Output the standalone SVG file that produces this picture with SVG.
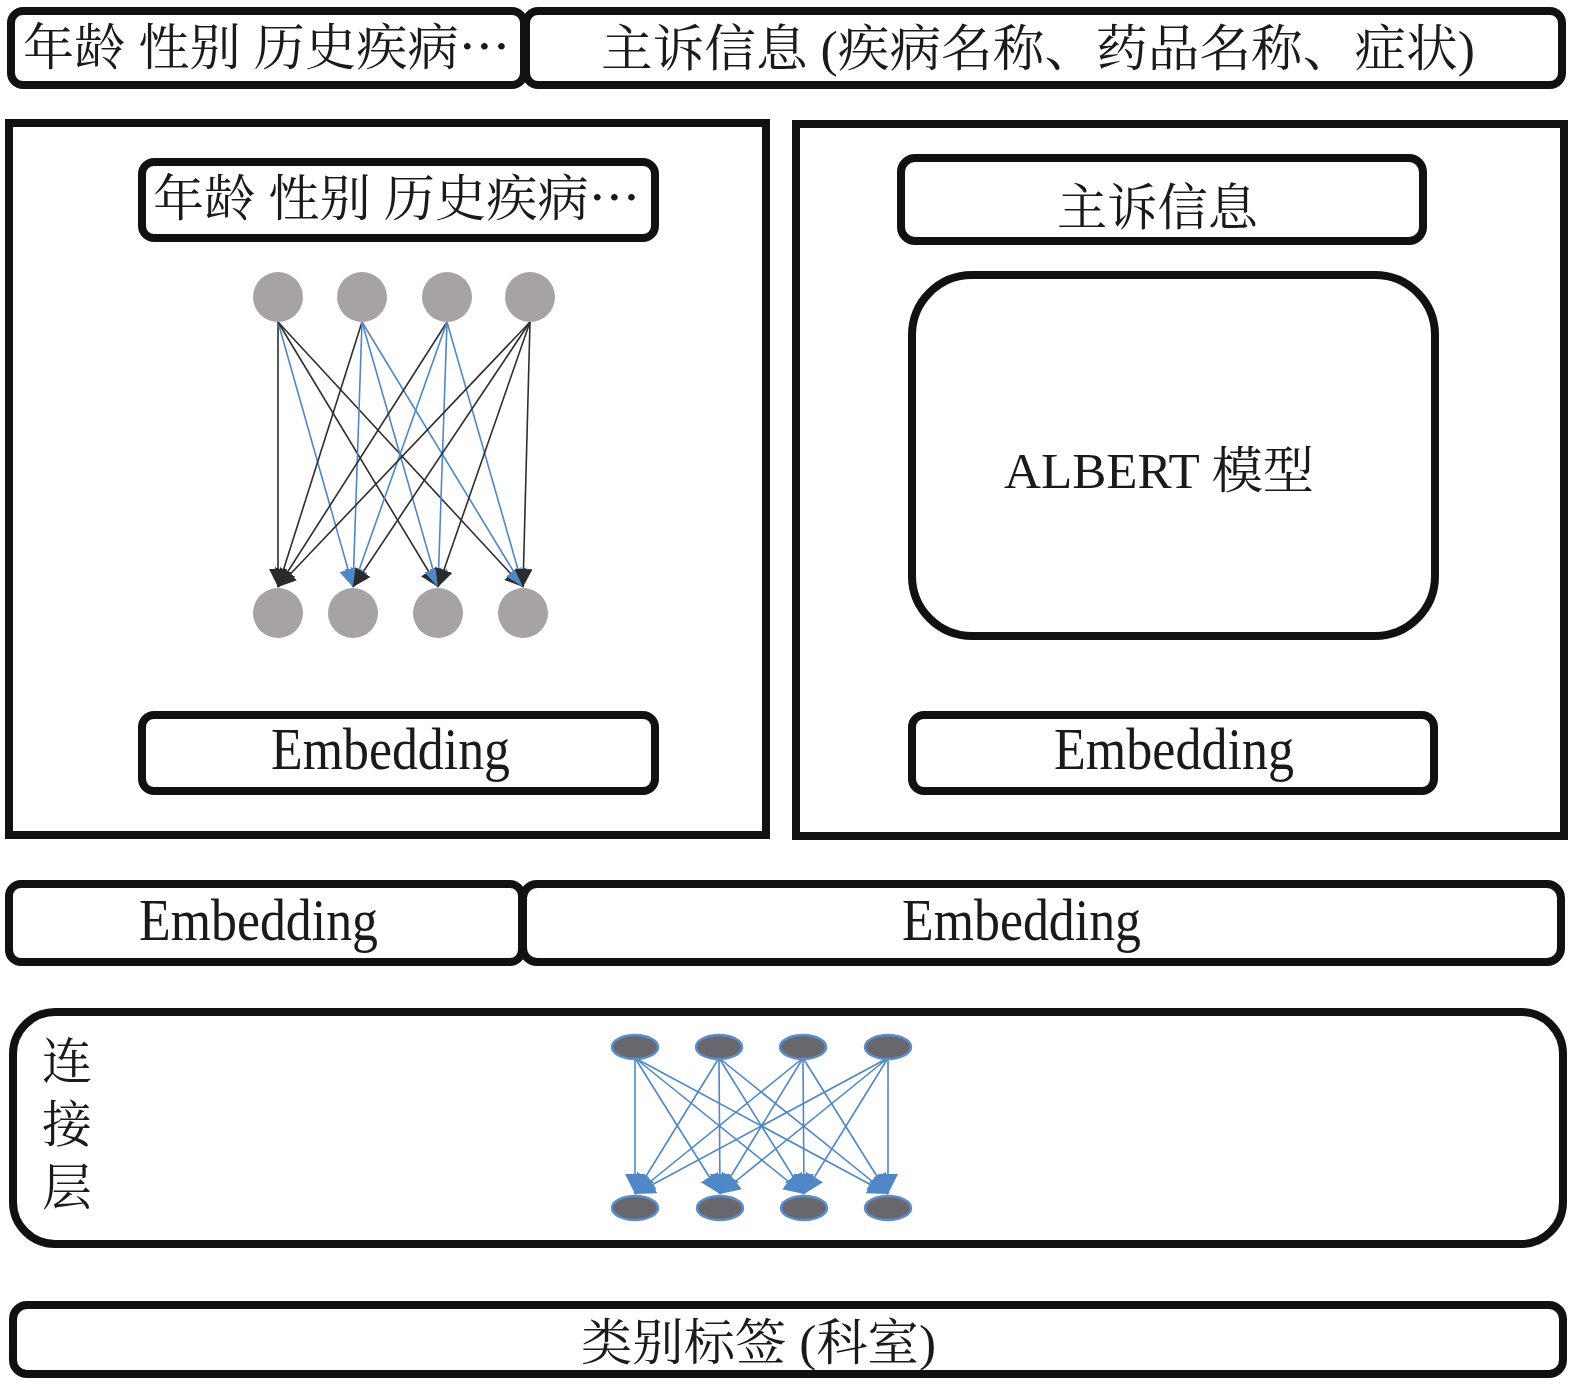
<svg xmlns="http://www.w3.org/2000/svg" width="1575" height="1388" viewBox="0 0 1575 1388">
<style>
.box{fill:#fff;stroke:#111;stroke-width:8}
.t{font-family:"Liberation Serif","Noto Serif CJK SC","Noto Sans CJK SC",serif;fill:#1a1a1a;font-size:50px}
.e{font-family:"Liberation Serif","Noto Serif CJK SC",serif;fill:#1a1a1a;font-size:60px}
.cj{font-family:"Noto Sans CJK SC",sans-serif}
.nd{stroke:#2e2e2e;stroke-width:1.6;fill:none}
.nb{stroke:#4f87c7;stroke-width:1.6;fill:none}
.c{fill:#a6a2a6}
.el{fill:#68676d;stroke:#5b8fcb;stroke-width:2.5}
</style>
<defs>
<marker id="ad" viewBox="0 0 10 10" refX="10" refY="5" markerWidth="18" markerHeight="18" markerUnits="userSpaceOnUse" orient="auto"><path d="M0,0 L10,5 L0,10 z" fill="#2b2b2b"/></marker>
<marker id="ab" viewBox="0 0 10 10" refX="10" refY="5" markerWidth="18" markerHeight="18" markerUnits="userSpaceOnUse" orient="auto"><path d="M0,0 L10,5 L0,10 z" fill="#4f87c7"/></marker>
<marker id="ab2" viewBox="0 0 10 10" refX="10" refY="5" markerWidth="20" markerHeight="22" markerUnits="userSpaceOnUse" orient="auto"><path d="M0,0 L10,5 L0,10 z" fill="#4f87c7"/></marker>
</defs>

<g id="top-left-input">
<rect class="box" x="11" y="11" width="513" height="74" rx="12"/>
<text class="t" x="23" y="65" textLength="487" lengthAdjust="spacingAndGlyphs">年龄 性别 历史疾病<tspan class="cj">…</tspan></text>
</g>
<g id="top-right-input">
<rect class="box" x="526" y="11" width="1036" height="74" rx="12"/>
<text class="t" x="601" y="66" textLength="874" lengthAdjust="spacingAndGlyphs">主诉信息 (疾病名称、药品名称、症状)</text>
</g>

<g id="left-panel">
<rect class="box" x="9" y="123" width="757" height="712"/>
</g>
<g id="right-panel">
<rect class="box" x="796" y="124" width="768" height="712"/>
</g>

<g id="left-inner-input">
<rect class="box" x="142" y="162" width="513" height="76" rx="12"/>
<text class="t" x="153" y="216" textLength="487" lengthAdjust="spacingAndGlyphs">年龄 性别 历史疾病<tspan class="cj">…</tspan></text>
</g>
<g id="right-inner-input">
<rect class="box" x="901" y="158" width="522" height="83" rx="14"/>
<text class="t" x="1057" y="225" textLength="201" lengthAdjust="spacingAndGlyphs">主诉信息</text>
</g>
<g id="albert">
<rect class="box" x="912" y="275" width="523" height="361" rx="60"/>
<text class="t" x="1004" y="488" textLength="310" lengthAdjust="spacingAndGlyphs">ALBERT 模型</text>
</g>
<g id="left-embedding">
<rect class="box" x="142" y="715" width="513" height="76" rx="12"/>
<text class="e" x="271" y="769" textLength="239" lengthAdjust="spacingAndGlyphs">Embedding</text>
</g>
<g id="right-embedding">
<rect class="box" x="912" y="715" width="522" height="76" rx="12"/>
<text class="e" x="1054" y="769" textLength="240" lengthAdjust="spacingAndGlyphs">Embedding</text>
</g>

<g id="row-embedding-left">
<rect class="box" x="9" y="884" width="513" height="78" rx="12"/>
<text class="e" x="139" y="940" textLength="239" lengthAdjust="spacingAndGlyphs">Embedding</text>
</g>
<g id="row-embedding-right">
<rect class="box" x="523" y="884" width="1038" height="78" rx="14"/>
<text class="e" x="902" y="940" textLength="239" lengthAdjust="spacingAndGlyphs">Embedding</text>
</g>

<g id="concat-layer">
<rect class="box" x="13" y="1012" width="1550" height="232" rx="42"/>
<text class="t" x="42" y="1079">连</text>
<text class="t" x="42" y="1142">接</text>
<text class="t" x="42" y="1205">层</text>
</g>

<g id="label">
<rect class="box" x="13" y="1305" width="1550" height="69" rx="14"/>
<text class="t" x="581" y="1360" textLength="355" lengthAdjust="spacingAndGlyphs">类别标签 (科室)</text>
</g>

<g id="connectors">
<g id="mlp-top-edges">
<line class="nd" x1="278" y1="322" x2="278" y2="587" marker-end="url(#ad)"/>
<line class="nb" x1="278" y1="322" x2="353" y2="587" marker-end="url(#ab)"/>
<line class="nd" x1="278" y1="322" x2="438" y2="587" marker-end="url(#ad)"/>
<line class="nd" x1="278" y1="322" x2="523" y2="587" marker-end="url(#ad)"/>
<line class="nd" x1="362" y1="322" x2="278" y2="587" marker-end="url(#ad)"/>
<line class="nb" x1="362" y1="322" x2="353" y2="587" marker-end="url(#ab)"/>
<line class="nb" x1="362" y1="322" x2="438" y2="587" marker-end="url(#ab)"/>
<line class="nb" x1="362" y1="322" x2="523" y2="587" marker-end="url(#ab)"/>
<line class="nd" x1="447" y1="322" x2="278" y2="587" marker-end="url(#ad)"/>
<line class="nb" x1="447" y1="322" x2="353" y2="587" marker-end="url(#ab)"/>
<line class="nb" x1="447" y1="322" x2="438" y2="587" marker-end="url(#ab)"/>
<line class="nb" x1="447" y1="322" x2="523" y2="587" marker-end="url(#ab)"/>
<line class="nd" x1="530" y1="322" x2="278" y2="587" marker-end="url(#ad)"/>
<line class="nd" x1="530" y1="322" x2="353" y2="587" marker-end="url(#ad)"/>
<line class="nd" x1="530" y1="322" x2="438" y2="587" marker-end="url(#ad)"/>
<line class="nd" x1="530" y1="322" x2="523" y2="587" marker-end="url(#ad)" stroke="#555"/>
</g>
<g id="mlp-bottom-edges">
<line class="nb" x1="635" y1="1058" x2="635" y2="1194" marker-end="url(#ab2)"/>
<line class="nb" x1="635" y1="1058" x2="720" y2="1194" marker-end="url(#ab2)"/>
<line class="nb" x1="635" y1="1058" x2="804" y2="1194" marker-end="url(#ab2)"/>
<line class="nb" x1="635" y1="1058" x2="888" y2="1194" marker-end="url(#ab2)"/>
<line class="nb" x1="719" y1="1058" x2="635" y2="1194" marker-end="url(#ab2)"/>
<line class="nb" x1="719" y1="1058" x2="720" y2="1194" marker-end="url(#ab2)"/>
<line class="nb" x1="719" y1="1058" x2="804" y2="1194" marker-end="url(#ab2)"/>
<line class="nb" x1="719" y1="1058" x2="888" y2="1194" marker-end="url(#ab2)"/>
<line class="nb" x1="803" y1="1058" x2="635" y2="1194" marker-end="url(#ab2)"/>
<line class="nb" x1="803" y1="1058" x2="720" y2="1194" marker-end="url(#ab2)"/>
<line class="nb" x1="803" y1="1058" x2="804" y2="1194" marker-end="url(#ab2)"/>
<line class="nb" x1="803" y1="1058" x2="888" y2="1194" marker-end="url(#ab2)"/>
<line class="nb" x1="888" y1="1058" x2="635" y2="1194" marker-end="url(#ab2)"/>
<line class="nb" x1="888" y1="1058" x2="720" y2="1194" marker-end="url(#ab2)"/>
<line class="nb" x1="888" y1="1058" x2="804" y2="1194" marker-end="url(#ab2)"/>
<line class="nb" x1="888" y1="1058" x2="888" y2="1194" marker-end="url(#ab2)"/>
</g>
</g>

<g id="mlp-top-nodes">
<circle class="c" cx="278" cy="297" r="25"/>
<circle class="c" cx="362" cy="297" r="25"/>
<circle class="c" cx="447" cy="297" r="25"/>
<circle class="c" cx="530" cy="297" r="25"/>
<circle class="c" cx="278" cy="613" r="25"/>
<circle class="c" cx="353" cy="613" r="25"/>
<circle class="c" cx="438" cy="613" r="25"/>
<circle class="c" cx="523" cy="613" r="25"/>
</g>
<g id="mlp-bottom-nodes">
<ellipse class="el" cx="635" cy="1047" rx="23" ry="12"/>
<ellipse class="el" cx="719" cy="1047" rx="23" ry="12"/>
<ellipse class="el" cx="803" cy="1047" rx="23" ry="12"/>
<ellipse class="el" cx="888" cy="1047" rx="23" ry="12"/>
<ellipse class="el" cx="635" cy="1208" rx="23" ry="12"/>
<ellipse class="el" cx="720" cy="1208" rx="23" ry="12"/>
<ellipse class="el" cx="804" cy="1208" rx="23" ry="12"/>
<ellipse class="el" cx="888" cy="1208" rx="23" ry="12"/>
</g>
</svg>
